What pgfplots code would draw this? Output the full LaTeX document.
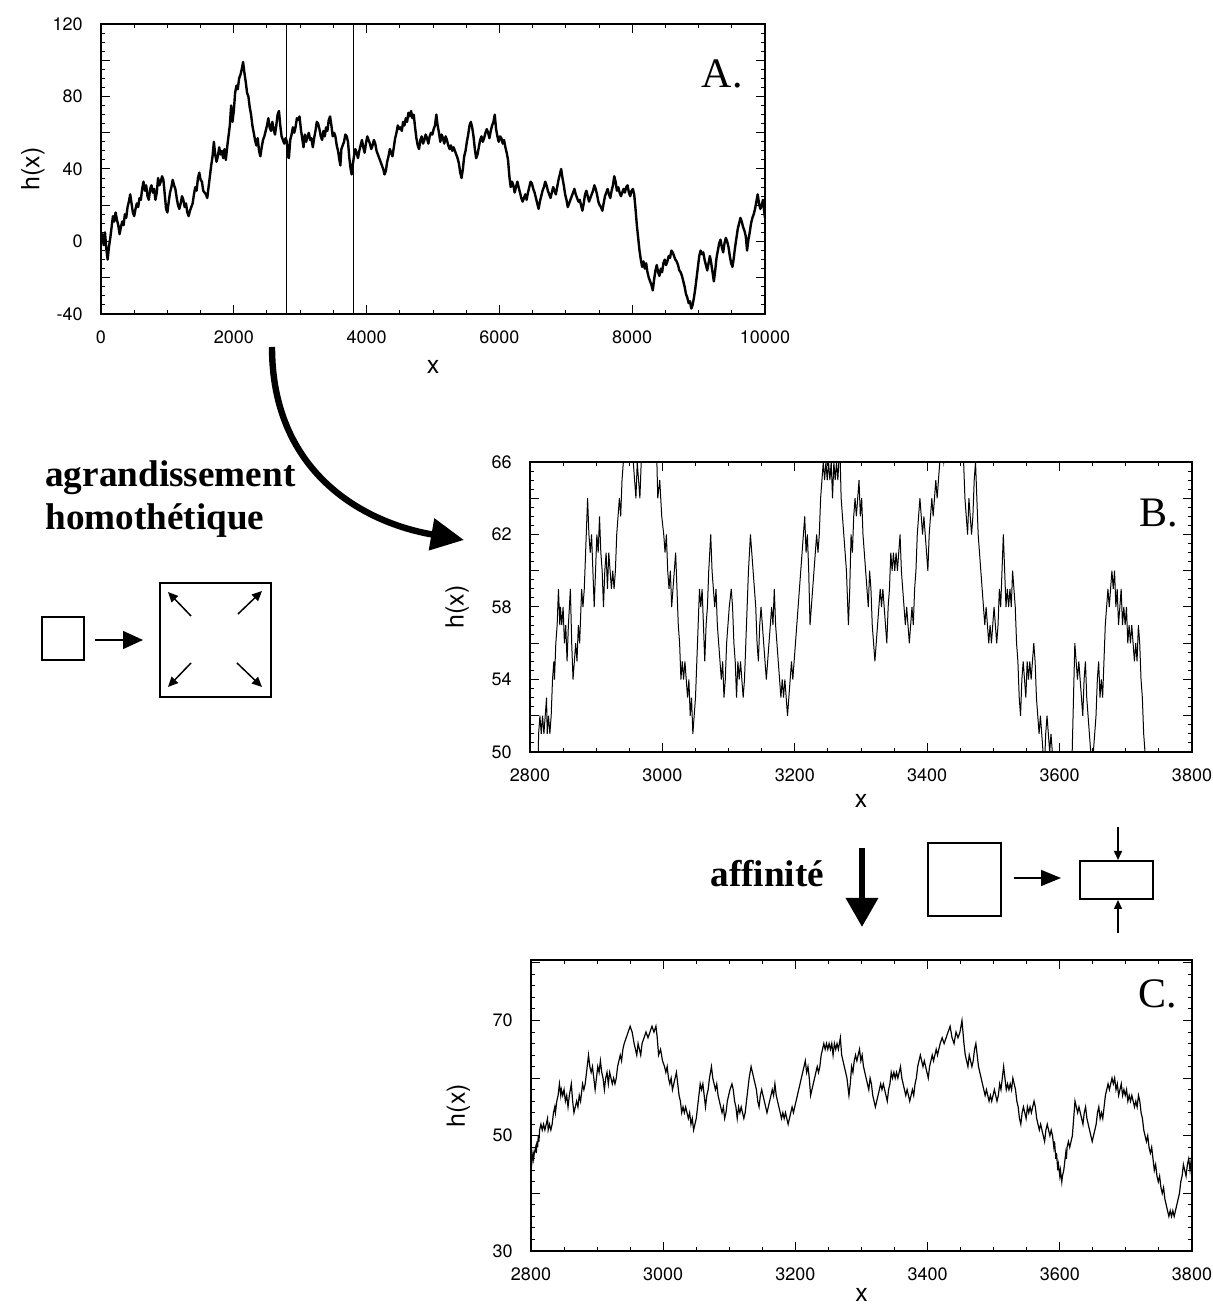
\documentclass[border=0pt]{standalone}
\usepackage{pgfplots}
\pgfplotsset{compat=1.18}
\usepackage{pgfplotstable}
\usepackage{fontspec}
\setsansfont{TeX Gyre Heros}
\newfontfamily\timesfont{Liberation Serif}
\usetikzlibrary{arrows.meta}

% full profile h(x), 0 <= x <= 10000
\pgfplotstableread{
x h
0 0
20 4
40 -2
60 5
80 -4
100 -10
120 -3
140 2
160 8
180 14
200 11
220 16
240 12
260 9
280 4
300 8
320 11
340 9
360 15
380 13
400 19
420 22
440 26
460 21
480 16
500 14
520 18
540 21
560 19
580 24
600 23
620 29
640 33
660 28
680 31
700 25
720 23
740 29
760 31
780 27
800 29
820 23
840 27
860 35
880 31
900 33
920 36
940 34
960 26
980 18
1000 16
1020 22
1040 27
1060 30
1080 34
1100 31
1120 29
1140 24
1160 20
1180 18
1200 21
1220 25
1240 23
1260 19
1280 21
1300 16
1320 14
1340 17
1360 19
1380 21
1400 26
1420 30
1440 28
1460 35
1480 38
1500 34
1520 33
1540 28
1560 27
1580 26
1600 24
1620 30
1640 36
1660 42
1680 47
1700 55
1720 48
1740 44
1760 47
1780 52
1800 48
1820 50
1840 46
1860 51
1880 45
1900 52
1920 58
1940 64
1960 75
1980 66
2000 72
2020 82
2040 86
2060 84
2080 90
2100 92
2120 95
2140 99
2160 93
2180 88
2200 82
2220 80
2240 74
2260 70
2280 64
2300 60
2320 56
2340 53
2360 57
2380 50
2400 47
2420 52
2440 56
2460 58
2480 61
2500 64
2520 68
2540 63
2560 61
2580 66
2600 62
2620 59
2640 64
2660 70
2680 72
2700 64
2720 58
2740 56
2760 54
2780 57
2800 55
2815 47
2830 46
2850 56
2870 59
2890 63
2910 60
2930 63
2950 68
2970 67
2990 69
3010 62
3030 57
3050 52
3070 59
3090 55
3110 58
3130 60
3150 56
3170 57
3190 52
3210 57
3230 61
3250 66
3270 65
3290 62
3310 58
3330 56
3350 61
3370 58
3390 63
3410 61
3430 67
3450 69
3470 64
3490 58
3510 60
3530 58
3550 53
3570 50
3590 45
3605 42
3620 51
3640 53
3660 55
3680 59
3700 58
3720 55
3740 46
3760 40
3775 37
3790 42
3810 47
3830 51
3850 49
3870 46
3890 50
3910 53
3930 56
3950 52
3970 49
3990 54
4010 58
4030 56
4050 54
4070 51
4090 53
4110 56
4130 54
4150 50
4170 48
4190 46
4210 44
4230 42
4250 40
4270 37
4290 39
4310 44
4330 47
4350 51
4370 49
4390 47
4410 52
4430 57
4450 60
4470 64
4490 62
4510 63
4530 61
4550 66
4570 64
4590 68
4610 66
4630 71
4650 69
4670 72
4690 68
4710 70
4730 63
4750 57
4770 53
4790 51
4810 56
4830 58
4850 54
4870 56
4890 59
4910 57
4930 54
4950 58
4970 60
4990 59
5010 62
5030 64
5050 70
5070 64
5090 60
5110 55
5130 59
5150 57
5170 54
5190 58
5210 56
5230 53
5250 51
5270 53
5290 50
5310 52
5330 50
5350 48
5370 46
5390 43
5410 38
5430 35
5450 40
5470 47
5490 50
5510 55
5530 59
5550 64
5570 66
5590 63
5610 58
5630 51
5650 46
5670 48
5690 52
5710 56
5730 58
5750 55
5770 57
5790 60
5810 62
5830 60
5850 57
5870 61
5890 64
5910 66
5930 70
5950 62
5970 58
5990 55
6010 58
6030 57
6050 54
6070 56
6090 52
6110 49
6130 45
6150 36
6170 30
6190 33
6210 31
6230 27
6250 30
6270 33
6290 30
6310 27
6330 24
6350 22
6370 24
6390 26
6410 23
6430 27
6450 30
6470 33
6490 32
6510 29
6530 27
6550 24
6570 21
6590 18
6610 22
6630 25
6650 28
6670 30
6690 33
6710 31
6730 28
6750 26
6770 24
6790 27
6810 30
6830 28
6850 26
6870 30
6890 34
6910 37
6930 40
6950 35
6970 31
6990 26
7010 23
7030 19
7050 21
7070 23
7090 25
7110 27
7130 29
7150 26
7170 24
7190 22
7210 23
7230 20
7250 17
7270 21
7290 26
7310 28
7330 25
7350 22
7370 24
7390 26
7410 28
7430 31
7450 29
7470 26
7490 22
7510 20
7530 19
7550 17
7570 21
7590 25
7610 27
7630 29
7650 26
7670 24
7690 28
7710 31
7730 36
7750 33
7770 28
7790 30
7810 27
7830 25
7850 27
7870 29
7890 27
7910 30
7930 31
7950 27
7970 25
7990 28
8010 29
8030 26
8050 18
8070 9
8090 2
8110 -5
8130 -10
8150 -14
8170 -11
8190 -15
8210 -12
8230 -17
8250 -20
8270 -22
8290 -24
8310 -27
8330 -21
8350 -16
8370 -13
8390 -17
8410 -19
8430 -15
8450 -17
8470 -12
8490 -10
8510 -13
8530 -11
8550 -8
8570 -9
8590 -5
8610 -6
8630 -8
8650 -10
8670 -11
8690 -13
8710 -16
8730 -17
8750 -19
8770 -22
8790 -25
8810 -29
8830 -31
8850 -34
8870 -33
8890 -37
8910 -35
8930 -31
8950 -26
8970 -20
8990 -14
9010 -8
9030 -5
9050 -7
9070 -6
9090 -10
9110 -13
9130 -16
9150 -12
9170 -8
9190 -12
9210 -17
9230 -22
9250 -16
9270 -9
9290 -5
9310 -1
9330 1
9350 -3
9370 -6
9390 -1
9410 2
9430 0
9450 -3
9470 -8
9490 -12
9510 -14
9530 -9
9550 -3
9570 2
9590 7
9610 10
9630 13
9650 11
9670 8
9690 6
9710 3
9730 -5
9750 1
9770 5
9790 10
9810 13
9830 15
9850 18
9870 22
9890 26
9910 21
9930 18
9950 20
9970 23
9990 16
10000 13
}\profileA

% detail of the profile, 2800 <= x <= 3800
\pgfplotstableread{
x h
2800 46
2801 45
2803 47
2804 46
2805 47
2807 48
2808 47
2809 49
2810 48
2811 50
2812 49
2813 51
2815 52
2817 51
2819 52
2821 51
2823 52
2825 53
2826 51
2828 52
2830 51
2832 52
2834 54
2836 55
2837 54
2839 56
2841 57
2843 59
2845 57
2846 58
2848 57
2850 58
2852 56
2854 57
2856 55
2858 57
2861 59
2863 56
2865 54
2867 55
2869 56
2871 55
2873 57
2875 56
2877 58
2878 59
2880 58
2882 59
2884 61
2887 64
2889 62
2891 61
2893 62
2895 60
2897 58
2899 60
2901 62
2903 61
2905 63
2907 61
2909 60
2911 58
2913 60
2915 61
2917 59
2919 61
2921 60
2923 59
2925 60
2927 59
2929 60
2931 62
2933 63
2935 64
2937 63
2939 65
2941 66
2944 67
2947 68
2950 69
2953 68
2956 66
2958 65
2960 64
2962 66
2964 65
2966 64
2968 66
2971 67
2974 68
2977 67
2980 68
2983 69
2986 68
2989 69
2991 67
2993 64
2996 65
2999 63
3002 62
3004 61
3006 62
3008 60
3010 59
3012 60
3014 58
3016 59
3018 60
3020 61
3022 59
3024 57
3026 56
3028 54
3030 55
3032 54
3034 55
3036 54
3038 53
3040 54
3042 52
3044 53
3046 51
3048 52
3050 53
3052 55
3054 57
3056 59
3058 58
3060 59
3062 57
3064 55
3066 57
3068 58
3070 60
3073 62
3075 60
3077 59
3079 58
3081 59
3083 57
3085 56
3087 55
3089 54
3091 55
3093 53
3095 54
3097 56
3099 57
3101 58
3104 59
3106 58
3108 56
3110 55
3112 53
3114 55
3116 54
3118 55
3120 54
3122 53
3124 54
3126 56
3128 58
3130 60
3133 62
3135 61
3137 60
3139 59
3141 58
3143 56
3145 55
3147 57
3149 58
3151 57
3153 56
3155 55
3157 54
3159 55
3161 56
3163 57
3165 58
3167 57
3169 59
3171 57
3173 56
3175 55
3177 54
3179 53
3181 54
3183 53
3185 54
3187 53
3189 52
3191 53
3193 54
3195 55
3197 54
3199 55
3201 56
3203 57
3205 58
3207 59
3209 60
3211 61
3213 62
3215 63
3217 61
3219 62
3221 60
3223 57
3225 58
3227 59
3229 60
3231 61
3233 62
3235 61
3237 62
3239 64
3241 65
3243 66
3245 65
3247 66
3249 65
3251 66
3253 65
3255 66
3257 64
3259 66
3261 65
3263 66
3265 65
3268 67
3270 64
3272 63
3274 62
3276 61
3278 60
3281 57
3283 59
3285 62
3287 61
3289 63
3291 64
3293 63
3295 64
3297 65
3299 63
3301 64
3303 62
3305 61
3307 60
3309 59
3311 58
3313 60
3315 59
3317 57
3319 56
3321 55
3323 56
3325 57
3327 58
3329 59
3331 58
3333 59
3335 58
3337 57
3339 56
3341 58
3343 59
3345 61
3347 60
3349 61
3351 60
3353 61
3355 60
3357 61
3359 62
3361 60
3363 59
3365 58
3367 57
3369 58
3371 57
3373 56
3375 57
3377 58
3379 57
3381 59
3383 60
3385 62
3387 63
3389 64
3391 63
3393 62
3395 63
3397 62
3399 61
3401 60
3403 62
3405 63
3407 64
3409 63
3411 64
3413 65
3415 64
3417 65
3419 66
3422 67
3425 66
3428 67
3431 68
3434 69
3437 67
3440 66
3443 68
3446 67
3449 68
3452 70
3455 66
3457 64
3459 63
3461 62
3463 64
3465 63
3467 62
3469 63
3471 65
3473 66
3475 64
3477 62
3479 61
3481 60
3483 59
3485 58
3487 57
3489 58
3491 57
3493 56
3495 57
3497 56
3499 57
3501 58
3503 57
3505 56
3507 57
3509 59
3511 58
3513 60
3515 62
3517 60
3519 58
3521 59
3523 58
3525 59
3527 58
3529 60
3531 59
3533 58
3535 56
3537 55
3539 53
3541 52
3543 54
3545 55
3547 54
3549 53
3551 55
3553 54
3555 55
3557 54
3559 55
3561 56
3563 55
3565 53
3567 52
3569 51
3571 52
3573 51
3575 50
3577 49
3579 51
3581 52
3583 51
3585 50
3587 51
3589 50
3591 48
3592 49
3594 46
3595 47
3597 44
3598 45
3600 43
3601 44
3603 42
3604 43
3606 44
3607 45
3609 47
3610 46
3611 48
3613 49
3615 48
3617 49
3619 50
3621 53
3623 56
3625 55
3627 54
3629 55
3631 54
3633 53
3635 52
3637 54
3639 55
3641 53
3643 52
3645 51
3647 50
3649 49
3651 50
3653 51
3655 52
3657 54
3659 55
3661 53
3663 54
3665 53
3667 55
3669 57
3671 58
3673 59
3675 58
3677 59
3679 60
3681 59
3683 60
3685 58
3687 59
3689 57
3691 58
3693 59
3695 57
3697 58
3699 57
3701 58
3703 56
3705 57
3707 56
3709 57
3711 56
3713 55
3715 56
3717 55
3719 57
3721 56
3723 54
3725 53
3727 51
3729 50
3731 49
3733 50
3735 48
3737 47
3739 48
3741 46
3743 44
3745 45
3747 43
3749 42
3751 43
3753 41
3755 40
3757 41
3759 39
3761 38
3763 37
3765 36
3767 37
3769 36
3771 37
3773 36
3775 37
3777 38
3779 39
3781 40
3783 42
3785 43
3787 45
3789 44
3791 43
3793 45
3795 46
3797 44
3799 46
3800 47
}\profileBC

\pgfplotsset{
  walk/.style={
    scale only axis, anchor=south west,
    axis line style={line width=0.8pt},
    tick style={black, line width=0.5pt},
    major tick length=4.5pt, minor tick length=2.2pt,
    tick align=inside,
    scaled ticks=false,
    tick label style={font=\sffamily\fontsize{9}{10}\selectfont},
    label style={font=\sffamily\fontsize{12.5}{14}\selectfont},
    /pgf/number format/assume math mode=true,
    /pgf/number format/set thousands separator={},
    xticklabel style={yshift=-5pt},
    yticklabel style={xshift=-5.6pt},
    xlabel={x}, ylabel={h(x)},
  }
}

\begin{document}
\begin{tikzpicture}
\useasboundingbox (0,0) rectangle (606pt,654pt);

% A. full profile
\begin{axis}[walk, at={(50.5pt,497pt)}, width=332pt, height=145pt,
  xmin=0, xmax=10000, ymin=-40, ymax=120,
  xtick={0,2000,...,10000}, minor x tick num=3,
  ytick={-40,-20,...,120}, yticklabels={-40,,0,,40,,80,,120}, minor y tick num=3,
  xlabel style={at={(axis description cs:0.5,-0.183)}, anchor=center},
  ylabel style={at={(axis description cs:-0.1024,0.5)}, anchor=center}]
\addplot[black, line width=1.2pt, line join=round] table[x=x, y=h] {\profileA};
\addplot[black, line width=0.5pt] coordinates {(2800,-40) (2800,120)};
\addplot[black, line width=0.5pt] coordinates {(3800,-40) (3800,120)};
\end{axis}

% B. zoom on [2800,3800], same scale factor
\begin{axis}[walk, at={(265pt,278pt)}, width=331pt, height=145pt,
  xmin=2800, xmax=3800, ymin=50, ymax=66,
  xtick={2800,3000,...,3800}, minor x tick num=3,
  ytick={50,52,...,66}, yticklabels={50,,54,,58,,62,,66}, minor y tick num=3,
  xlabel style={at={(axis description cs:0.5,-0.169)}, anchor=center},
  ylabel style={at={(axis description cs:-0.110,0.5)}, anchor=center}]
\addplot[black, line width=0.5pt] table[x=x, y=h] {\profileBC};
\end{axis}

% C. same window, vertical axis compressed
\begin{axis}[walk, at={(265.5pt,28.5pt)}, width=330.5pt, height=145.5pt,
  xmin=2800, xmax=3800, ymin=30, ymax=80.5,
  xtick={2800,3000,...,3800}, minor x tick num=3,
  ytick={30,40,...,80}, yticklabels={30,,50,,70,}, minor y tick num=4,
  xlabel style={at={(axis description cs:0.5,-0.151)}, anchor=center},
  ylabel style={at={(axis description cs:-0.110,0.5)}, anchor=center}]
\addplot[black, line width=0.6pt] table[x=x, y=h] {\profileBC};
\end{axis}

% panel letters
\node[anchor=base east, inner sep=0pt, font=\timesfont\fontsize{21}{24}\selectfont] at (371.5pt,610pt) {A.};
\node[anchor=base east, inner sep=0pt, font=\timesfont\fontsize{21}{24}\selectfont] at (589pt,390.5pt) {B.};
\node[anchor=base east, inner sep=0pt, font=\timesfont\fontsize{21}{24}\selectfont] at (588.5pt,150pt) {C.};

% homothety: curved arrow and caption
\draw[line width=3.2pt, -{Triangle[length=16.5pt,width=15.5pt]}]
  (136pt,480.5pt) .. controls (136pt,419pt) and (180pt,393pt) .. (232pt,384pt);
\node[anchor=base west, inner sep=0pt, font=\timesfont\bfseries\fontsize{18.6}{21}\selectfont] at (22.5pt,410.5pt) {agrandissement};
\node[anchor=base west, inner sep=0pt, font=\timesfont\bfseries\fontsize{18.6}{21}\selectfont] at (22.5pt,389pt) {homothétique};

% homothety sketch
\draw[line width=0.8pt] (21pt,324pt) rectangle (42pt,345.5pt);
\draw[line width=0.75pt, -{Triangle[length=10pt,width=9pt]}] (47.5pt,334pt) -- (71.5pt,334pt);
\draw[line width=1pt] (80pt,305.5pt) rectangle (135.5pt,362.5pt);
\draw[line width=0.75pt, -{Triangle[length=5pt,width=4.5pt]}] (95.5pt,346pt) -- (84pt,358pt);
\draw[line width=0.75pt, -{Triangle[length=5pt,width=4.5pt]}] (119pt,347pt) -- (131pt,358.5pt);
\draw[line width=0.75pt, -{Triangle[length=5pt,width=4.5pt]}] (95.5pt,322.5pt) -- (84pt,310.5pt);
\draw[line width=0.75pt, -{Triangle[length=5pt,width=4.5pt]}] (118.5pt,322.5pt) -- (131pt,310.5pt);

% affinity: straight arrow, caption and sketch
\draw[line width=3.2pt, -{Triangle[length=14.5pt,width=15.5pt]}] (431pt,230pt) -- (431pt,190.5pt);
\node[anchor=base west, inner sep=0pt, font=\timesfont\bfseries\fontsize{18.6}{21}\selectfont] at (355pt,210.5pt) {affinité};
\draw[line width=1pt] (464pt,196pt) rectangle (500.5pt,232.5pt);
\draw[line width=0.75pt, -{Triangle[length=10pt,width=8pt]}] (507pt,215pt) -- (530.5pt,215pt);
\draw[line width=1pt] (540pt,204.5pt) rectangle (576.5pt,223.5pt);
\draw[line width=0.75pt, -{Triangle[length=4.5pt,width=4pt]}] (559pt,240.5pt) -- (559pt,224pt);
\draw[line width=0.75pt, -{Triangle[length=4.5pt,width=4pt]}] (559pt,187.5pt) -- (559pt,204pt);
\end{tikzpicture}
\end{document}
